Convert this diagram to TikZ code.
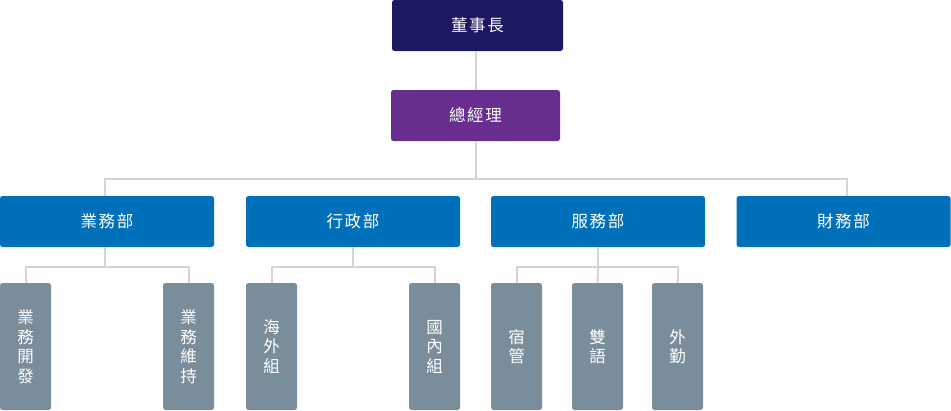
\documentclass[tikz,border=0pt]{standalone}
\usepackage{fontspec}
\newfontfamily\cjk[LetterSpace=10]{Noto Sans CJK TC}
\usepackage{xcolor}
\definecolor{ColTop}{RGB}{29,24,98}
\definecolor{ColGM}{RGB}{103,45,143}
\definecolor{ColDep}{RGB}{0,112,186}
\definecolor{ColSub}{RGB}{121,142,154}
\definecolor{ColLine}{RGB}{210,214,214}
\usepackage{tikz}
\tikzstyle{Box}=[rectangle,rounded corners=2.5pt,text=white,inner sep=0pt,
font=\cjk\fontsize{16.5}{19}\selectfont]
\tikzstyle{NodeTop}=[Box,fill=ColTop,minimum width=171pt,minimum height=51pt]
\tikzstyle{NodeGM}=[Box,fill=ColGM,minimum width=169pt,minimum height=51pt]
\tikzstyle{NodeDep}=[Box,fill=ColDep,minimum width=214pt,minimum height=51pt]
\tikzstyle{NodeSub}=[Box,fill=ColSub,minimum width=51pt,minimum height=127pt,
align=center,font=\cjk\fontsize{16.5}{19.5}\selectfont]
\tikzstyle{Edge}=[draw=ColLine,line width=2pt]

\begin{document}
\begin{tikzpicture}[x=1pt,y=-1pt]
            \useasboundingbox(0,0)rectangle(951,410);
            \node[NodeTop](ceo)at(477.5,25.5){董事長};
            \node[NodeGM](gm)at(475.5,115.5){總經理};
            \node[NodeDep](sales)at(107,221.5){業務部};
            \node[NodeDep](admin)at(353,221.5){行政部};
            \node[NodeDep](serv)at(598,221.5){服務部};
            \node[NodeDep](fin)at(843.5,221.5){財務部};
            \node[NodeSub](s1)at(25.5,346.5){業\\務\\開\\發};
            \node[NodeSub](s2)at(188.5,346.5){業\\務\\維\\持};
            \node[NodeSub](a1)at(271.5,346.5){海\\外\\組};
            \node[NodeSub](a2)at(434.5,346.5){國\\內\\組};
            \node[NodeSub](v1)at(516.5,346.5){宿\\管};
            \node[NodeSub](v2)at(597.5,346.5){雙\\語};
            \node[NodeSub](v3)at(677.5,346.5){外\\勤};
            \coordinate(b0)at(476,179);
            \coordinate(bs)at(105,266.5);
            \coordinate(bf)at(847,179);
            \coordinate(ba)at(353,266.5);
            \coordinate(bv)at(598,266.5);
            \draw[Edge](ceo.south-|b0)--(gm.north-|b0);
            \draw[Edge](gm.south-|b0)--(b0);
            \draw[Edge](sales.north-|bs)|-(b0)--(bf)--(fin.north-|bf);
            \draw[Edge](sales.south-|bs)--(bs);
            \draw[Edge](s1.north)|-(bs)-|(s2.north);
            \draw[Edge](admin.south)--(ba);
            \draw[Edge](a1.north)|-(ba)-|(a2.north);
            \draw[Edge](serv.south)--(bv);
            \draw[Edge](v1.north)|-(bv)-|(v3.north);
            \draw[Edge](v2.north)--(bv);
        \end{tikzpicture}
\end{document}
